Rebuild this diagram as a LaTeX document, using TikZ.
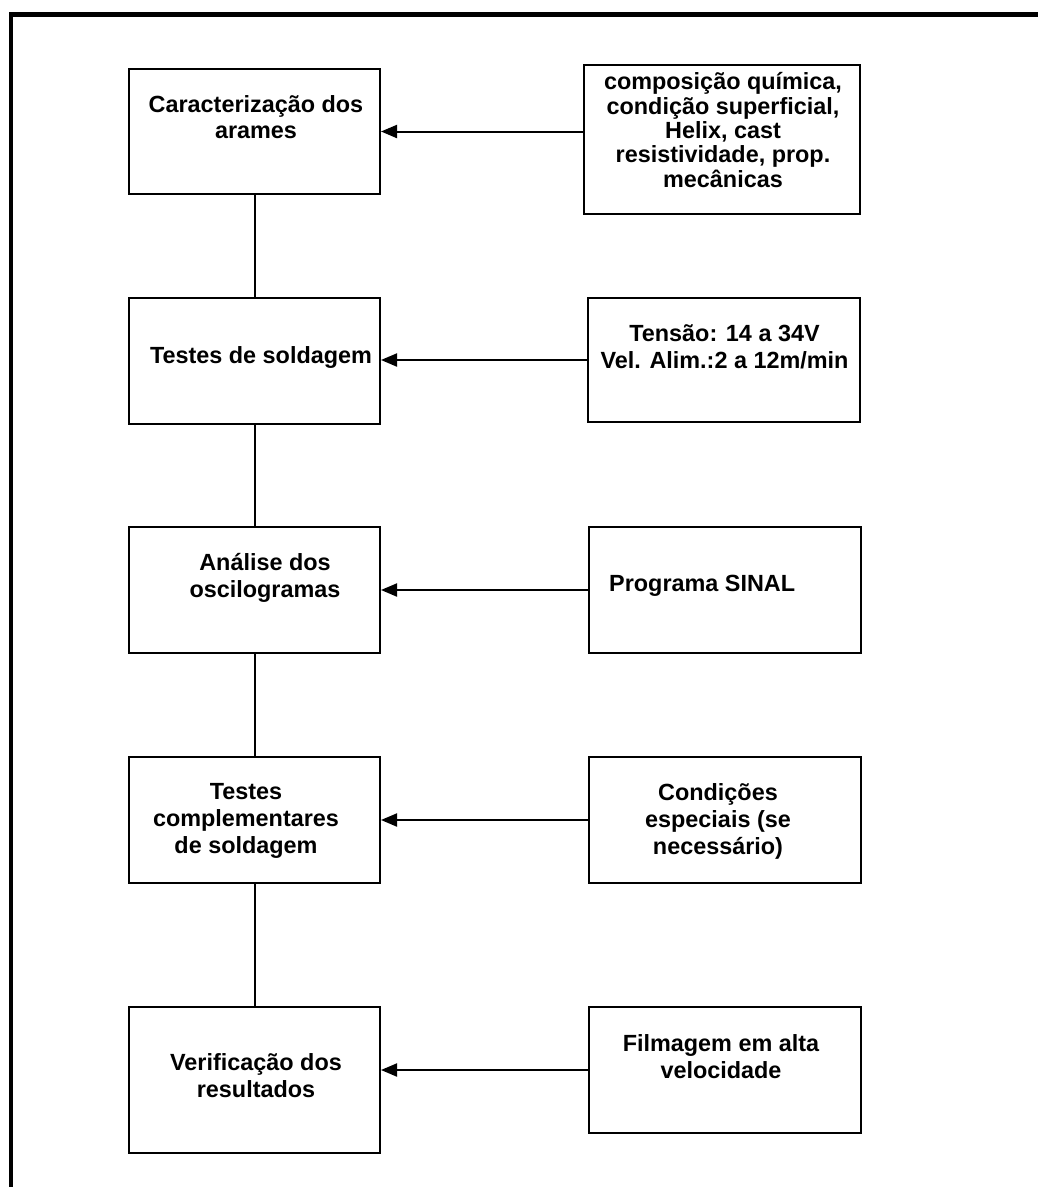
\documentclass[tikz,border=0pt]{standalone}
\usepackage{fontspec}
\setmainfont{Liberation Sans}
\usetikzlibrary{arrows.meta}
\begin{document}
\begin{tikzpicture}[x=1pt,y=-1pt,
  box/.style={draw, line width=2pt, inner sep=0pt},
  lbox/.style={box, minimum width=251pt, minimum height=126pt},
  rbox/.style={box, minimum width=272pt, minimum height=126pt},
  txt/.style={align=center, font=\fontsize{23.4}{27}\selectfont\bfseries, inner sep=0pt},
  link/.style={line width=2pt},
  feed/.style={line width=2pt, -{Triangle[length=16pt,width=13pt]}}]
\useasboundingbox (0,0) rectangle (1038,1187);
% frame
\coordinate (fb) at (11,1200);
\coordinate (fc) at (11,14.3);
\coordinate (fr) at (1050,14.3);
\draw[line width=4.6pt] (fb) -- (fc) -- (fr);
% left boxes
\node[lbox, minimum height=125pt] (b1) at (254.5,131.5) {};
\node[lbox] (b2) at (254.5,360.5) {};
\node[lbox] (b3) at (254.5,590) {};
\node[lbox] (b4) at (254.5,820) {};
\node[lbox, minimum height=146pt] (b5) at (254.5,1080) {};
\node[txt, font=\fontsize{23.4}{26}\selectfont\bfseries] (t1) at (256,117) {Caracterização dos\\arames};
\node[txt] (t2) at (261,357) {Testes de soldagem};
\node[txt] (t3) at (265,578) {Análise dos\\oscilogramas};
\node[txt] (t4) at (246,821) {Testes\\complementares\\de soldagem};
\node[txt] (t5) at (256,1076) {Verificação dos\\resultados};
% right boxes
\node[box, minimum width=276pt, minimum height=149pt] (r1) at (722,139.5) {};
\node[rbox, minimum height=124pt] (r2) at (724,360) {};
\node[rbox] (r3) at (725,590) {};
\node[rbox] (r4) at (725,820) {};
\node[rbox] (r5) at (725,1070) {};
\node[txt, font=\fontsize{23.4}{24.3}\selectfont\bfseries] (s1) at (723,130) {composição química,\\condição superficial,\\Helix, cast\\resistividade, prop.\\mecânicas};
\node[txt] (s2) at (724.5,347) {Tensão: 14 a 34V\\Vel. Alim.:2 a 12m/min};
\node[txt, anchor=west] (s3) at (609,586) {Programa SINAL};
\node[txt] (s4) at (718,821) {Condições\\especiais (se\\necessário)};
\node[txt] (s5) at (721,1057) {Filmagem em alta\\velocidade};
% vertical links
\draw[link] (b1.south) -- (b2.north);
\draw[link] (b2.south) -- (b3.north);
\draw[link] (b3.south) -- (b4.north);
\draw[link] (b4.south) -- (b5.north);
% feed arrows
\draw[feed] (r1.west |- b1.east) -- (b1.east);
\draw[feed] (r2.west) -- (b2.east |- r2.west);
\draw[feed] (r3.west) -- (b3.east);
\draw[feed] (r4.west) -- (b4.east);
\draw[feed] (r5.west) -- (b5.east |- r5.west);
\end{tikzpicture}
\end{document}
